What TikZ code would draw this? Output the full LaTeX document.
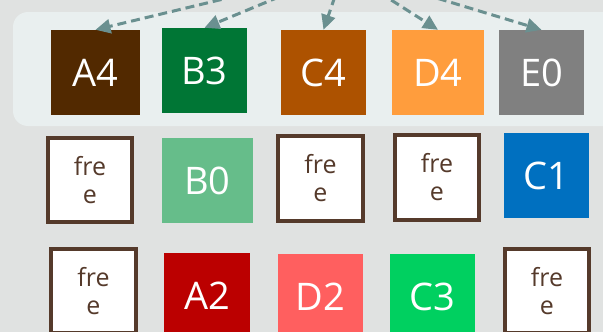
\documentclass[tikz,border=0pt]{standalone}
\usepackage{fontspec}
\setmainfont{Open Sans}
\usetikzlibrary{arrows.meta}
\definecolor{bgc}{HTML}{E0E2E1}
\definecolor{panelc}{HTML}{E9EFEF}
\definecolor{arrc}{HTML}{6A9090}
\definecolor{freec}{HTML}{553A2B}
\definecolor{cA4}{HTML}{522900}
\definecolor{cB3}{HTML}{007635}
\definecolor{cC4}{HTML}{AD5200}
\definecolor{cD4}{HTML}{FF9D3D}
\definecolor{cE0}{HTML}{808080}
\definecolor{cB0}{HTML}{66BD8A}
\definecolor{cC1}{HTML}{0070C0}
\definecolor{cA2}{HTML}{BB0000}
\definecolor{cD2}{HTML}{FF5F5F}
\definecolor{cC3}{HTML}{00D060}
\tikzset{
  blk/.style={fill=#1, draw=none, text=white, inner sep=0pt,
    font=\fontsize{38}{40}\selectfont, minimum height=85pt},
  freebox/.style={fill=white, draw=freec, line width=3.6pt, text=freec,
    inner sep=0pt, minimum width=84.5pt, minimum height=84.5pt,
    align=center, font=\fontsize{25}{28}\selectfont},
  ptr/.style={draw=arrc, line width=3pt, dash pattern=on 9pt off 5pt,
    -{Triangle[length=15pt,width=14pt]}}
}
\begin{document}
\begin{tikzpicture}[x=1pt,y=-1pt]
\useasboundingbox (0,0) rectangle (603,332);
\clip (0,0) rectangle (603,332);
\fill[bgc] (0,0) rectangle (603,332);
\fill[panelc, rounded corners=15pt] (13,12) rectangle (640,126);
% top row
\node[blk=cA4, minimum width=89pt] (A4) at (95.5,72.5) {A4};
\node[blk=cB3, minimum width=85pt] (B3) at (204.5,70.5) {B3};
\node[blk=cC4, minimum width=85pt] (C4) at (323.5,72.5) {C4};
\node[blk=cD4, minimum width=92pt] (D4) at (438,72.5) {D4};
\node[blk=cE0, minimum width=85pt] (E0) at (541.5,72.5) {E0};
% middle row
\node[freebox] (F1) at (90,180) {fre\\e};
\node[blk=cB0, minimum width=91pt] (B0) at (207.5,180.5) {B0};
\node[freebox] (F2) at (320.5,178.5) {fre\\e};
\node[freebox] (F3) at (437,177.5) {fre\\e};
\node[blk=cC1, minimum width=85pt] (C1) at (546.5,175.5) {C1};
% bottom row
\node[freebox] (F4) at (93.5,291) {fre\\e};
\node[blk=cA2, minimum width=86pt] (A2) at (207,295.5) {A2};
\node[blk=cD2, minimum width=85pt] (D2) at (320.5,296.5) {D2};
\node[blk=cC3, minimum width=85pt] (C3) at (432.5,296.5) {C3};
\node[freebox] (F5) at (547,291) {fre\\e};
% pointers
\coordinate (src) at (344,-30);
\draw[ptr] (src) -- (A4.north);
\draw[ptr] (src) -- (B3.north);
\draw[ptr] (src) -- (C4.north);
\draw[ptr] (src) -- (D4.north);
\draw[ptr] (src) -- (E0.north);
\end{tikzpicture}
\end{document}
